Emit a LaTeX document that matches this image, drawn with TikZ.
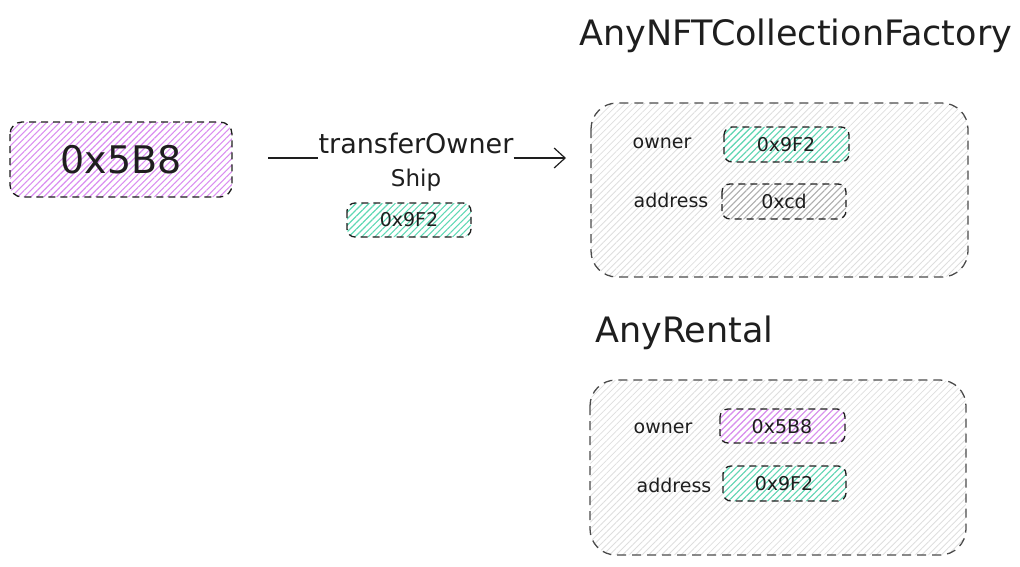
\documentclass[tikz,border=0pt]{standalone}
\usepackage{fontspec}
\setmainfont{DejaVu Sans}
\usetikzlibrary{patterns.meta,arrows.meta}
\definecolor{ink}{HTML}{1E1E1E}
\definecolor{purp}{HTML}{DA8EF0}
\definecolor{teal}{HTML}{5FD8B4}
\definecolor{greyh}{HTML}{B0B0B0}
\definecolor{lighth}{HTML}{DEDEDE}
\tikzset{
  box/.style={draw=ink, line width=1.3pt, dash pattern=on 7pt off 5pt, rounded corners=8pt},
  hp/.style={pattern={Lines[angle=45,distance=4.6pt,line width=1.1pt]}, pattern color=purp},
  hg/.style={pattern={Lines[angle=45,distance=4.6pt,line width=1.1pt]}, pattern color=teal},
  hk/.style={pattern={Lines[angle=45,distance=4.6pt,line width=1.1pt]}, pattern color=greyh},
  hl/.style={pattern={Lines[angle=45,distance=4.6pt,line width=0.8pt]}, pattern color=lighth},
  cont/.style={draw=ink!80, line width=1.3pt, dash pattern=on 9pt off 6pt, rounded corners=26pt},
  lbl/.style={text=ink, inner sep=0pt},
  small/.style={lbl, font=\fontsize{19}{21}\selectfont},
  val/.style={lbl, font=\fontsize{19}{21}\selectfont},
}
\begin{document}
\begin{tikzpicture}[x=1pt,y=-1pt]
\useasboundingbox (0,0) rectangle (1020,566);
% containers
\path[cont,hl] (591,103) rectangle (968,277);
\path[cont,hl] (590,380) rectangle (966,555);
% left box
\path[box,hp,rounded corners=12pt] (10,122) rectangle (232,197);
\node[lbl,font=\fontsize{38}{42}\selectfont] (src) at (121,160) {0x5B8};
\coordinate (srcE) at (268,158);
% arrow
\node[lbl,font=\fontsize{27}{30}\selectfont] (fn) at (416,143) {transferOwner};
\node[lbl,font=\fontsize{23}{26}\selectfont] (fn2) at (416,180) {Ship};
\coordinate (tgt) at (566,158);
\draw[ink,line width=1.2pt] (srcE) -- (fn.west |- srcE);
\draw[ink,line width=1.2pt,-{Straight Barb[length=11pt,width=20pt,line width=1.2pt]}] (fn.east |- srcE) -- (tgt);
% arg box
\path[box,hg] (347,203) rectangle (471,237);
\node[val] (arg) at (409,220) {0x9F2};
% titles
\node[lbl,font=\fontsize{35}{38}\selectfont,anchor=west] (t1) at (579,36) {AnyNFTCollectionFactory};
\node[lbl,font=\fontsize{35}{38}\selectfont,anchor=west] (t2) at (595,333) {AnyRental};
% factory fields
\node[small] (o1) at (662,143) {owner};
\path[box,hg] (724,127) rectangle (849,162);
\node[val] (o1v) at (786,145) {0x9F2};
\node[small] (a1) at (671,200) {address};
\path[box,hk] (722,184) rectangle (846,219);
\node[val] (a1v) at (784,201) {0xcd};
% rental fields
\node[small] (o2) at (663,428) {owner};
\path[box,hp] (720,409) rectangle (845,443);
\node[val] (o2v) at (782,427) {0x5B8};
\node[small] (a2) at (674,485) {address};
\path[box,hg] (723,466) rectangle (846,501);
\node[val] (a2v) at (784,484) {0x9F2};
\end{tikzpicture}
\end{document}
